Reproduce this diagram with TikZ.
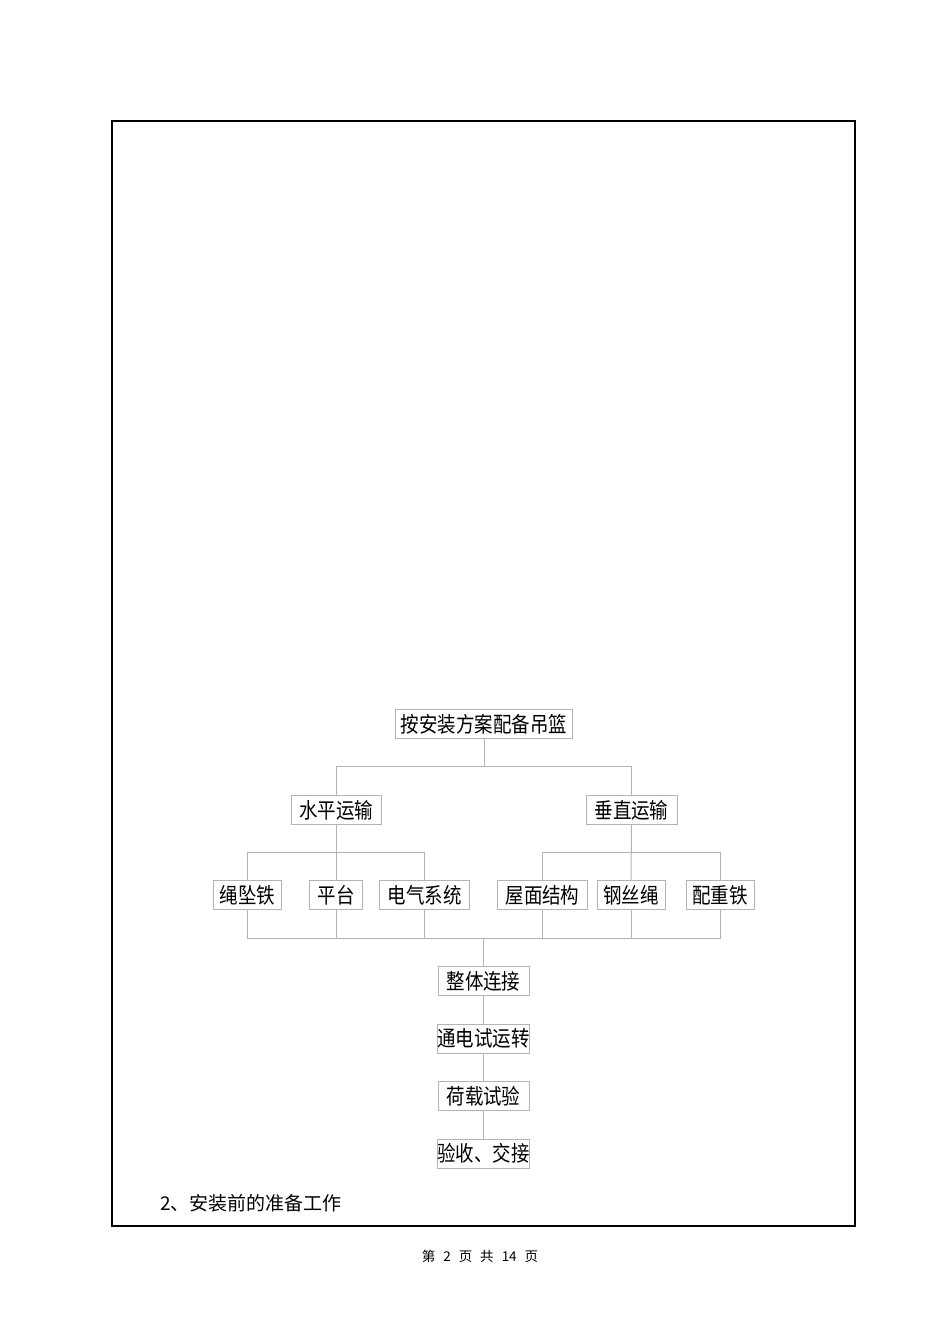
\documentclass[tikz,border=0pt]{standalone}
\usepackage{fontspec}
\usepackage{xcolor}
\usepackage{tikz}
\usetikzlibrary{positioning}
\newfontfamily\cjk{Noto Sans CJK SC}
\newfontfamily\cjknarrow[FakeStretch=0.86]{Noto Sans CJK SC}
\definecolor{linegray}{RGB}{180,180,180}
\tikzset{box/.style={draw=linegray,line width=1pt,minimum height=29pt,minimum width=#1,inner sep=0pt,font=\cjknarrow\fontsize{21.5}{24}\selectfont},
         conn/.style={draw=linegray,line width=1pt}}
\newcommand{\gap}{\hspace{8pt}}

\begin{document}
\begin{tikzpicture}[x=1pt,y=-1pt]
        \useasboundingbox (0,0) rectangle (950,1344);
        \draw[line width=2.4pt] (112,121) rectangle (855,1226);

        \node[box=177pt] (top) at (484,724.3) {按安装方案配备吊篮};
        \node[box=90pt] (hz) at (336,810) {水平运输};
        \node[box=91pt] (vt) at (631.5,810) {垂直运输};
        \node[box=68pt] (sz) at (247.5,895.4) {绳坠铁};
        \node[box=53pt] (pt) at (336,895.4) {平台};
        \node[box=90pt] (dq) at (424.6,895.4) {电气系统};
        \node[box=90pt] (wm) at (542.5,895.4) {屋面结构};
        \node[box=68pt] (gs) at (631,895.4) {钢丝绳};
        \node[box=68pt] (pz) at (720,895.4) {配重铁};
        \node[box=91pt] (zt) at (483.5,981) {整体连接};
        \node[box=91pt] (td) at (483.5,1038.5) {通电试运转};
        \node[box=91pt] (hs) at (483.5,1096) {荷载试验};
        \node[box=91pt] (ys) at (483.5,1153.5) {验收、交接};

        \coordinate (j1) at (484,766.7);
        \coordinate (j2) at (336,852.7);
        \coordinate (j3) at (631.5,852.7);
        \coordinate (j4) at (483.5,938);

        \draw[conn] (top) -- (j1);
        \draw[conn] (hz.north) |- (j1) -| (vt.north);
        \draw[conn] (hz) -- (pt);
        \draw[conn] (sz.north) |- (j2) -| (dq.north);
        \draw[conn] (vt) -- (gs);
        \draw[conn] (wm.north) |- (j3) -| (pz.north);
        \draw[conn] (sz.south) |- (j4) -| (pz.south);
        \draw[conn] (pt.south) -- (pt.south |- j4);
        \draw[conn] (dq.south) -- (dq.south |- j4);
        \draw[conn] (wm.south) -- (wm.south |- j4);
        \draw[conn] (gs.south) -- (gs.south |- j4);
        \draw[conn] (j4) -- (zt);
        \draw[conn] (zt) -- (td);
        \draw[conn] (td) -- (hs);
        \draw[conn] (hs) -- (ys);

        \node[anchor=west,inner sep=0pt,font=\cjk\fontsize{19}{22}\selectfont] (sec) at (160,1203) {2、安装前的准备工作};
        \node[inner sep=0pt,font=\cjk\fontsize{13.5}{15}\selectfont] (foot) at (480,1256) {第\gap 2\gap 页\gap 共\gap 14\gap 页};
\end{tikzpicture}
\end{document}
